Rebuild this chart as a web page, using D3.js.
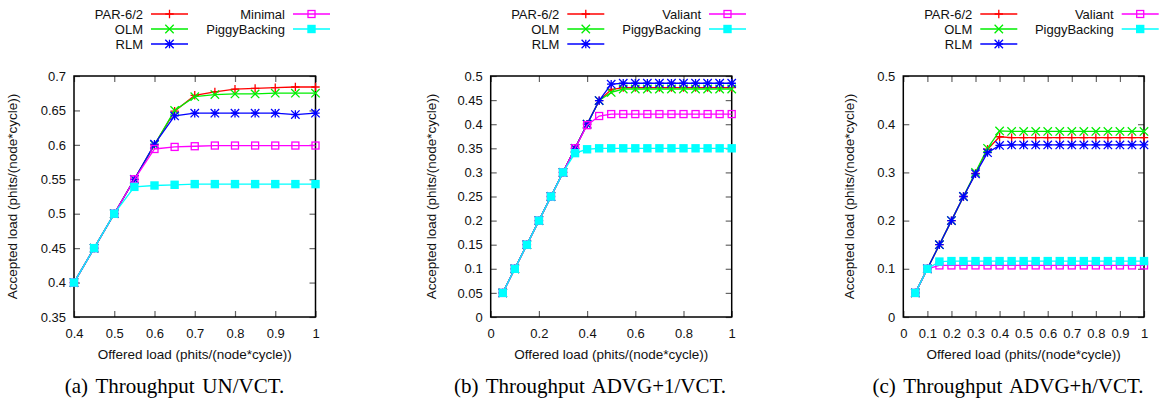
<!DOCTYPE html>
<html>
<head>
<meta charset="utf-8">
<script src="https://cdn.jsdelivr.net/npm/d3@7"></script>
<style>
  body { margin: 0; background: #fff; }
  svg { display: block; }
</style>
</head>
<body>
<div id="chart"></div>
<script>
// Chart data
var names = ["PAR-6/2", "OLM", "RLM"];
var namesA = ["Minimal", "PiggyBacking"];
var namesBC = ["Valiant", "PiggyBacking"];

// (a) UN/VCT
var loadA = [0.40, 0.45, 0.50, 0.55, 0.60, 0.65, 0.70, 0.75, 0.80, 0.85, 0.90, 0.95, 1.00];
var parA = [0.400, 0.450, 0.500, 0.550, 0.600, 0.649, 0.672, 0.677, 0.681, 0.682, 0.683, 0.684, 0.684];
var olmA = [0.400, 0.450, 0.500, 0.550, 0.600, 0.650, 0.670, 0.673, 0.674, 0.674, 0.675, 0.675, 0.675];
var rlmA = [0.400, 0.450, 0.500, 0.550, 0.601, 0.642, 0.646, 0.646, 0.646, 0.646, 0.646, 0.644, 0.646];
var minA = [0.400, 0.450, 0.500, 0.550, 0.594, 0.597, 0.598, 0.599, 0.599, 0.599, 0.599, 0.599, 0.599];
var pigA = [0.400, 0.450, 0.500, 0.539, 0.541, 0.542, 0.543, 0.543, 0.543, 0.543, 0.543, 0.543, 0.543];
var xTicksA = [0.4, 0.5, 0.6, 0.7, 0.8, 0.9, 1];
var yTicksA = [0.35, 0.4, 0.45, 0.5, 0.55, 0.6, 0.65, 0.7];

// (b) ADVG+1/VCT and (c) ADVG+h/VCT share the offered loads
var loadBC = [0.05, 0.10, 0.15, 0.20, 0.25, 0.30, 0.35, 0.40, 0.45, 0.50,
              0.55, 0.60, 0.65, 0.70, 0.75, 0.80, 0.85, 0.90, 0.95, 1.00];
var parB = [0.05, 0.10, 0.15, 0.20, 0.25, 0.30, 0.35, 0.40, 0.449, 0.472,
            0.476, 0.476, 0.476, 0.476, 0.476, 0.476, 0.476, 0.476, 0.476, 0.476];
var olmB = [0.05, 0.10, 0.15, 0.20, 0.25, 0.30, 0.35, 0.40, 0.449, 0.466,
            0.473, 0.473, 0.473, 0.473, 0.473, 0.473, 0.473, 0.473, 0.473, 0.473];
var rlmB = [0.05, 0.10, 0.15, 0.20, 0.25, 0.30, 0.35, 0.40, 0.449, 0.483,
            0.485, 0.485, 0.485, 0.485, 0.485, 0.485, 0.485, 0.485, 0.485, 0.485];
var valB = [0.05, 0.10, 0.15, 0.20, 0.25, 0.30, 0.35, 0.398, 0.417, 0.421,
            0.421, 0.421, 0.421, 0.421, 0.421, 0.421, 0.421, 0.421, 0.421, 0.421];
var pigB = [0.05, 0.10, 0.15, 0.20, 0.25, 0.30, 0.340, 0.348, 0.350, 0.350,
            0.350, 0.350, 0.350, 0.350, 0.350, 0.350, 0.350, 0.350, 0.350, 0.350];
var xTicksB = [0, 0.2, 0.4, 0.6, 0.8, 1];
var yTicksB = [0, 0.05, 0.1, 0.15, 0.2, 0.25, 0.3, 0.35, 0.4, 0.45, 0.5];

var parC = [0.05, 0.10, 0.15, 0.20, 0.25, 0.298, 0.348, 0.374, 0.372, 0.372,
            0.372, 0.372, 0.372, 0.372, 0.372, 0.372, 0.372, 0.372, 0.372, 0.372];
var olmC = [0.05, 0.10, 0.15, 0.20, 0.25, 0.300, 0.350, 0.386, 0.385, 0.385,
            0.385, 0.385, 0.385, 0.385, 0.385, 0.385, 0.385, 0.385, 0.385, 0.385];
var rlmC = [0.05, 0.10, 0.15, 0.20, 0.25, 0.297, 0.341, 0.356, 0.357, 0.357,
            0.357, 0.357, 0.357, 0.357, 0.357, 0.357, 0.357, 0.357, 0.357, 0.357];
var valC = [0.05, 0.10, 0.107, 0.107, 0.107, 0.107, 0.107, 0.107, 0.107, 0.107,
            0.107, 0.107, 0.107, 0.107, 0.107, 0.107, 0.107, 0.107, 0.107, 0.107];
var pigC = [0.05, 0.10, 0.115, 0.116, 0.116, 0.116, 0.116, 0.116, 0.116, 0.116,
            0.116, 0.116, 0.116, 0.116, 0.116, 0.116, 0.116, 0.116, 0.116, 0.116];
var xTicksC = [0, 0.1, 0.2, 0.3, 0.4, 0.5, 0.6, 0.7, 0.8, 0.9, 1];
var yTicksC = [0, 0.1, 0.2, 0.3, 0.4, 0.5];

var captions = ["(a) Throughput UN/VCT.", "(b) Throughput ADVG+1/VCT.", "(c) Throughput ADVG+h/VCT."];
var xTitle = "Offered load (phits/(node*cycle))";
var yTitle = "Accepted load (phits/(node*cycle))";

// gnuplot style line types: colour + point shape
var colors = ["#ff0000", "#00ee00", "#0000ff", "#ff00ff", "#00ffff"];
var shapes = ["plus", "cross", "star", "box", "fbox"];

var svgWidth = 1163;
var svgHeight = 402;
var sansFont = "'Liberation Sans', Arial, Helvetica, sans-serif";
var serifFont = "'Liberation Serif', 'Times New Roman', serif";

var svg = d3.select("#chart")
    .append("svg")
    .attr("width", svgWidth)
    .attr("height", svgHeight);

// panel layout
var panels = [
    { left: 74, right: 315.5, xDom: [0.4, 1], yDom: [0.35, 0.7], xTicks: xTicksA, yTicks: yTicksA,
      load: loadA, data: [parA, olmA, rlmA, minA, pigA], labels: names.concat(namesA),
      leg1: 143, leg2: 285, yTitleX: 17, capX: 174.5, caption: captions[0] },
    { left: 490.7, right: 731.7, xDom: [0, 1], yDom: [0, 0.5], xTicks: xTicksB, yTicks: yTicksB,
      load: loadBC, data: [parB, olmB, rlmB, valB, pigB], labels: names.concat(namesBC),
      leg1: 559.3, leg2: 701, yTitleX: 435.5, capX: 590, caption: captions[1] },
    { left: 903.3, right: 1144, xDom: [0, 1], yDom: [0, 0.5], xTicks: xTicksC, yTicks: yTicksC,
      load: loadBC, data: [parC, olmC, rlmC, valC, pigC], labels: names.concat(namesBC),
      leg1: 972.3, leg2: 1113.7, yTitleX: 854, capX: 1008, caption: captions[2] }
];
var plotTop = 76;
var plotBottom = 317;
var tickLen = 6;

// draw one gnuplot point symbol into a group
function drawPoint(g, shape, color, cx, cy) {
    var s = 4.2;
    if (shape === "plus") {
        g.append("path").attr("d", `M${cx - s},${cy}H${cx + s}M${cx},${cy - s}V${cy + s}`)
            .attr("stroke", color).attr("stroke-width", 1.3).attr("fill", "none");
    } else if (shape === "cross") {
        g.append("path").attr("d", `M${cx - s},${cy - s}L${cx + s},${cy + s}M${cx - s},${cy + s}L${cx + s},${cy - s}`)
            .attr("stroke", color).attr("stroke-width", 1.3).attr("fill", "none");
    } else if (shape === "star") {
        g.append("path").attr("d", `M${cx - s},${cy}H${cx + s}M${cx},${cy - s}V${cy + s}` +
                `M${cx - s},${cy - s}L${cx + s},${cy + s}M${cx - s},${cy + s}L${cx + s},${cy - s}`)
            .attr("stroke", color).attr("stroke-width", 1.3).attr("fill", "none");
    } else if (shape === "box") {
        g.append("rect").attr("x", cx - 3.5).attr("y", cy - 3.5).attr("width", 7).attr("height", 7)
            .attr("stroke", color).attr("stroke-width", 1.3).attr("fill", "none");
    } else {
        g.append("rect").attr("x", cx - 4.2).attr("y", cy - 4.2).attr("width", 8.4).attr("height", 8.4)
            .attr("fill", color);
    }
}

function fmt(v) {
    return String(+v.toFixed(2));
}

panels.forEach(function(p) {
    var xScale = d3.scaleLinear().domain(p.xDom).range([p.left, p.right]);
    var yScale = d3.scaleLinear().domain(p.yDom).range([plotBottom, plotTop]);
    var g = svg.append("g");

    // axes, ticks pointing inward on all four sides
    var bottomAxis = d3.axisBottom(xScale).tickValues(p.xTicks).tickSize(-tickLen).tickPadding(12).tickFormat(fmt);
    var leftAxis = d3.axisLeft(yScale).tickValues(p.yTicks).tickSize(-tickLen).tickPadding(8).tickFormat(fmt);
    var topAxis = d3.axisTop(xScale).tickValues(p.xTicks).tickSize(-tickLen).tickFormat("");
    var rightAxis = d3.axisRight(yScale).tickValues(p.yTicks).tickSize(-tickLen).tickFormat("");

    var axes = [
        g.append("g").attr("transform", `translate(0,${plotBottom})`).call(bottomAxis),
        g.append("g").attr("transform", `translate(${p.left},0)`).call(leftAxis),
        g.append("g").attr("transform", `translate(0,${plotTop})`).call(topAxis),
        g.append("g").attr("transform", `translate(${p.right},0)`).call(rightAxis)
    ];
    axes.forEach(function(a) {
        a.select(".domain").remove();
        a.selectAll("line").attr("stroke", "#666").attr("stroke-width", 1.2);
        a.attr("font-family", sansFont).attr("font-size", 13);
        a.selectAll("text").attr("fill", "#111");
    });

    // border
    g.append("rect")
        .attr("x", p.left).attr("y", plotTop)
        .attr("width", p.right - p.left).attr("height", plotBottom - plotTop)
        .attr("fill", "none").attr("stroke", "#000").attr("stroke-width", 1.5);

    // series
    var line = d3.line()
        .x((d, i) => xScale(p.load[i]))
        .y(d => yScale(d));
    p.data.forEach(function(vals, k) {
        var sg = g.append("g");
        sg.append("path").datum(vals)
            .attr("d", line)
            .attr("fill", "none")
            .attr("stroke", colors[k])
            .attr("stroke-width", 1.3);
        vals.forEach(function(v, i) {
            drawPoint(sg, shapes[k], colors[k], xScale(p.load[i]), yScale(v));
        });
    });

    // axis titles
    g.append("text")
        .attr("x", (p.left + p.right) / 2).attr("y", 359)
        .attr("text-anchor", "middle")
        .attr("font-family", sansFont).attr("font-size", 13.5).attr("fill", "#111")
        .text(xTitle);
    g.append("text")
        .attr("transform", `translate(${p.yTitleX},${(plotTop + plotBottom) / 2})rotate(-90)`)
        .attr("text-anchor", "middle")
        .attr("font-family", sansFont).attr("font-size", 13.5).attr("fill", "#111")
        .text(yTitle);

    // legend, two columns
    p.labels.forEach(function(name, k) {
        var col = k < 3 ? 0 : 1;
        var row = k < 3 ? k : k - 3;
        var tx = col === 0 ? p.leg1 : p.leg2;
        var ty = 14 + row * 15;
        g.append("text")
            .attr("x", tx).attr("y", ty + 4.6)
            .attr("text-anchor", "end")
            .attr("font-family", sansFont).attr("font-size", 13).attr("fill", "#111")
            .text(name);
        g.append("line")
            .attr("x1", tx + 8).attr("x2", tx + 45)
            .attr("y1", ty).attr("y2", ty)
            .attr("stroke", colors[k]).attr("stroke-width", 1.3);
        drawPoint(g, shapes[k], colors[k], tx + 26.5, ty);
    });

    // caption
    g.append("text")
        .attr("x", p.capX).attr("y", 393)
        .attr("text-anchor", "middle")
        .attr("font-family", serifFont).attr("font-size", 21)
        .attr("word-spacing", 2.5)
        .attr("fill", "#000")
        .text(p.caption);
});
</script>
</body>
</html>
